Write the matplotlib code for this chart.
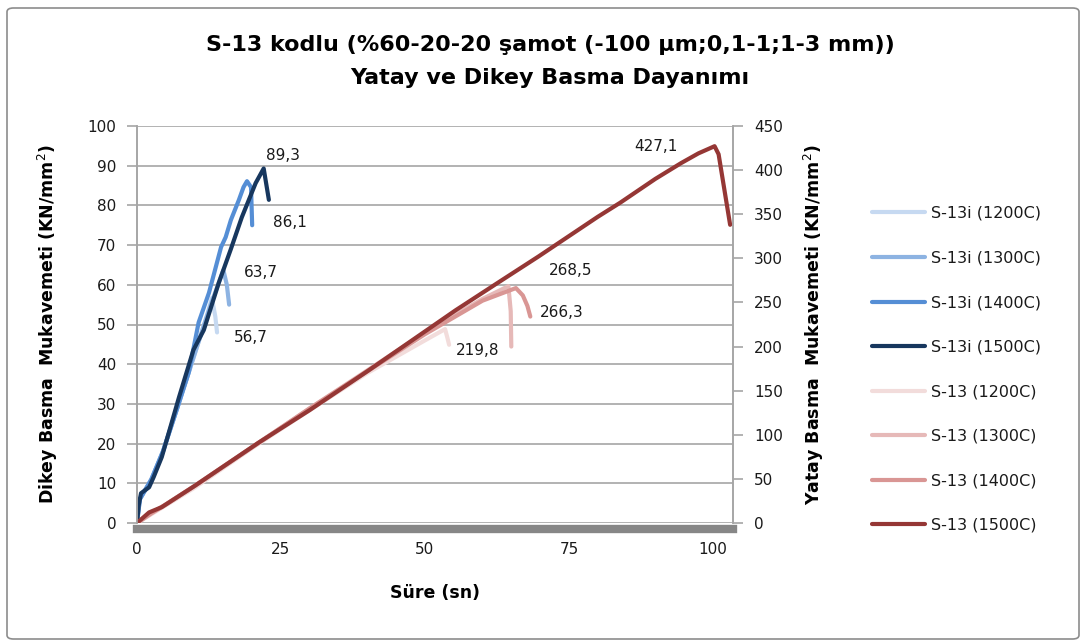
import matplotlib
matplotlib.use("Agg")
import matplotlib.pyplot as plt
from matplotlib.patches import FancyBboxPatch

# Dikey (vertical) compression series, left axis: time (s) and strength
s13i_1200_t = [0, 0.5, 2.5, 4.5, 7.0, 9.0, 11.0, 12.3, 13.0, 13.6, 13.9]
s13i_1200_y = [0, 6, 11, 18, 29, 38, 47, 53, 56.7, 52, 48]

s13i_1300_t = [0, 0.5, 2.5, 4.5, 7.0, 9.0, 11.0, 12.8, 14.2, 15.0, 15.6, 16.0]
s13i_1300_y = [0, 6, 11, 18, 29, 38, 47, 55, 60.5, 63.7, 60, 55]

s13i_1400_t = [0, 0.5, 2.5, 4.5, 7.0, 9.0, 10.7, 12.5, 14.6, 15.4, 16.3, 17.7, 18.5, 19.1, 19.8, 20.0]
s13i_1400_y = [0, 6, 11, 18, 29, 38, 50.5, 58.0, 69.5, 72, 76.3, 81.4, 84.6, 86.1, 84.6, 75]

s13i_1500_t = [0, 0.3, 0.7, 2.1, 2.9, 4.3, 7.3, 9.8, 11.6, 14.2, 16.3, 18.2, 20.6, 22.0, 22.9]
s13i_1500_y = [0, 4.5, 7.5, 9.0, 11.6, 16.6, 31.7, 43.6, 48.6, 60.5, 69.0, 77.0, 85.6, 89.3, 81.4]

# Yatay (horizontal) compression series, right axis
s13_1200_t = [0, 2.5, 5, 10, 20, 30, 40, 50, 53.5, 53.9, 54.2]
s13_1200_y = [0, 10, 20, 40, 85, 128, 170, 207, 219.8, 210, 202]

s13_1300_t = [0, 2.5, 5, 10, 20, 30, 40, 50, 60, 64.5, 64.9, 65.0]
s13_1300_y = [0, 11, 21, 42, 86, 130, 173, 216, 254, 268.5, 240, 200]

s13_1400_t = [0, 2.5, 5, 10, 20, 30, 40, 50, 60, 65.8, 67.0, 67.8, 68.3]
s13_1400_y = [0, 11, 21, 42, 86, 130, 172, 214, 252, 266.3, 258, 246, 234]

s13_1500_t = [0, 2.1, 4.3, 10.0, 21.1, 30.0, 40.0, 55.3, 63.3, 69.7, 80.0, 83.9,
              90.0, 94.5, 97.5, 100.3, 101.0, 103.0]
s13_1500_y = [0, 12, 18, 42, 91, 128, 172, 241, 275, 302, 347, 363,
              390, 408, 419, 427.1, 418, 338]

labels_i = ["S-13i (1200C)", "S-13i (1300C)", "S-13i (1400C)", "S-13i (1500C)"]
labels_h = ["S-13 (1200C)", "S-13 (1300C)", "S-13 (1400C)", "S-13 (1500C)"]
colors_i = ["#c6d9f1", "#8db3e2", "#558ed5", "#17375e"]
colors_h = ["#f2dcdb", "#e6b9b8", "#d99694", "#953735"]

x_ticks = [0, 25, 50, 75, 100]
left_ticks = list(range(0, 101, 10))
right_ticks = list(range(0, 451, 50))

W, H = 1086, 644
fig = plt.figure(figsize=(W / 100, H / 100), dpi=100)
fig.patch.set_facecolor("white")

# outer chart border
border = FancyBboxPatch((7 / W, 5 / H), 1072 / W, 631 / H,
                        boxstyle="round,pad=0,rounding_size=0.006",
                        transform=fig.transFigure, fill=False,
                        edgecolor="#8c8c8c", linewidth=1.2)
fig.patches.append(border)

ax = fig.add_axes([137 / W, (H - 523) / H, (733 - 137) / W, (523 - 126) / H])
ax2 = ax.twinx()

grid_c = "#a6a6a6"
ax.set_xlim(0, 103.5)
ax.set_ylim(0, 100)
ax2.set_ylim(0, 450)
ax.set_xticks(x_ticks)
ax.set_yticks(left_ticks)
ax2.set_yticks(right_ticks)
ax.yaxis.grid(True, color=grid_c, linewidth=1.2)
ax.set_axisbelow(True)

for a in (ax, ax2):
    a.spines["top"].set_visible(False)
    for s in ("left", "right"):
        a.spines[s].set_color(grid_c)
        a.spines[s].set_linewidth(1.2)
ax.spines["bottom"].set_color("#878787")
ax.spines["bottom"].set_linewidth(6)
ax.spines["bottom"].set_position(("outward", 4))
ax2.spines["bottom"].set_visible(False)

ax.tick_params(axis="y", length=7, width=1.2, color=grid_c, pad=8,
               labelsize=11, labelcolor="#1a1a1a")
ax2.tick_params(axis="y", length=7, width=1.2, color=grid_c, pad=8,
                labelsize=11, labelcolor="#1a1a1a")
ax.tick_params(axis="x", length=0, pad=10, labelsize=11, labelcolor="#1a1a1a")

lw = 3.0
lines = []
for t, y, c, lab in zip([s13i_1200_t, s13i_1300_t, s13i_1400_t, s13i_1500_t],
                        [s13i_1200_y, s13i_1300_y, s13i_1400_y, s13i_1500_y],
                        colors_i, labels_i):
    ln, = ax.plot(t, y, color=c, lw=lw, label=lab, solid_capstyle="round",
                  solid_joinstyle="round")
    lines.append(ln)
for t, y, c, lab in zip([s13_1200_t, s13_1300_t, s13_1400_t, s13_1500_t],
                        [s13_1200_y, s13_1300_y, s13_1400_y, s13_1500_y],
                        colors_h, labels_h):
    ln, = ax2.plot(t, y, color=c, lw=lw, label=lab, solid_capstyle="round",
                   solid_joinstyle="round")
    lines.append(ln)

# peak value labels
def peak_label(a, t, y, dx, dy):
    i = max(range(len(y)), key=lambda k: y[k])
    txt = f"{y[i]:.1f}".replace(".", ",")
    a.annotate(txt, (t[i], y[i]), xytext=(dx, dy), textcoords="offset pixels",
               ha="center", va="center", fontsize=11, color="#1a1a1a")

peak_label(ax, s13i_1500_t, s13i_1500_y, 19, 13)
peak_label(ax, s13i_1400_t, s13i_1400_y, 43, -41)
peak_label(ax, s13i_1300_t, s13i_1300_y, 37, -2)
peak_label(ax, s13i_1200_t, s13i_1200_y, 39, -40)
peak_label(ax2, s13_1500_t, s13_1500_y, -59, 0)
peak_label(ax2, s13_1300_t, s13_1300_y, 62, 16)
peak_label(ax2, s13_1400_t, s13_1400_y, 46, -24)
peak_label(ax2, s13_1200_t, s13_1200_y, 33, -21)

lab_font = dict(fontsize=12.5, fontweight="bold", family=["DejaVu Sans"])
ax.set_ylabel("Dikey Basma  Mukavemeti (KN/mm$^2$)", labelpad=20, **lab_font)
ax2.set_ylabel("Yatay Basma  Mukavemeti (KN/mm$^2$)", labelpad=14, **lab_font)
ax.set_xlabel("Süre (sn)", labelpad=19, **lab_font)

title_font = dict(fontsize=16, fontweight="bold", family=["DejaVu Sans"],
                  ha="center", va="center")
fig.text(550 / W, 1 - 45 / H, "S-13 kodlu (%60-20-20 şamot (-100 µm;0,1-1;1-3 mm))", **title_font)
fig.text(550 / W, 1 - 78 / H, "Yatay ve Dikey Basma Dayanımı", **title_font)

fig.legend(handles=lines, loc="upper left", bbox_to_anchor=(872 / W, 1 - 206 / H),
           frameon=False, fontsize=11.5, handlelength=3.3, handletextpad=0.4,
           labelspacing=1.85, borderpad=0, borderaxespad=0, labelcolor="#1a1a1a")

fig.savefig("out.png", dpi=100)
